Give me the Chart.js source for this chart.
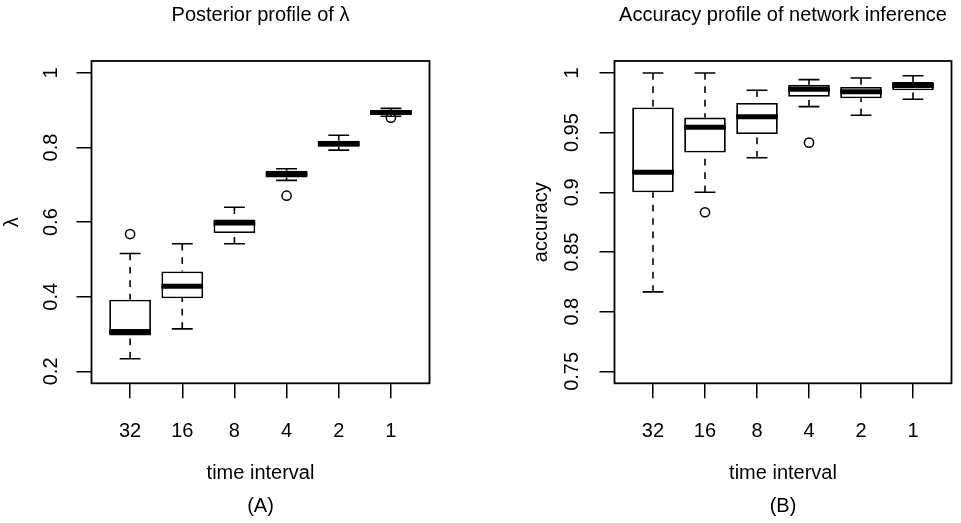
<!DOCTYPE html>
<html>
<head>
<meta charset="utf-8">
<script src="https://cdn.jsdelivr.net/npm/chart.js@4.4.1/dist/chart.umd.min.js"></script>
<style>
  body { margin: 0; background: #fff; }
  .panel { position: absolute; top: 0; }
</style>
</head>
<body>
<canvas id="lambdaChart" class="panel" width="480" height="523" style="left:0"></canvas>
<canvas id="accuracyChart" class="panel" width="481" height="523" style="left:480px"></canvas>
<script>
const intervals = ['32', '16', '8', '4', '2', '1']
const positions = [1, 2, 3, 4, 5, 6]

// posterior of lambda per time interval (whisker ends, quartiles, median)
const lambdaLow = [0.234, 0.314, 0.542, 0.712, 0.793, 0.884]
const lambdaQ1 = [0.296, 0.396, 0.571, 0.720, 0.802, 0.888]
const lambdaMed = [0.307, 0.428, 0.598, 0.729, 0.810, 0.894]
const lambdaQ3 = [0.392, 0.468, 0.607, 0.738, 0.818, 0.898]
const lambdaHigh = [0.516, 0.542, 0.640, 0.743, 0.833, 0.905]
const lambdaOutX = [1, 4, 6]
const lambdaOutY = [0.568, 0.671, 0.880]
const lambdaTicks = [0.2, 0.4, 0.6, 0.8, 1]

// accuracy of the inferred network
const accLow = [0.8166, 0.900, 0.929, 0.9718, 0.9645, 0.978]
const accQ1 = [0.900, 0.9333, 0.9489, 0.980, 0.9787, 0.9854]
const accMed = [0.9168, 0.9545, 0.9634, 0.9863, 0.9843, 0.9894]
const accQ3 = [0.971, 0.9626, 0.9749, 0.990, 0.9883, 0.9925]
const accHigh = [1.0, 1.0, 0.9855, 0.9944, 0.9958, 0.9977]
const accOutX = [2, 4]
const accOutY = [0.8833, 0.9416]
const accTicks = [0.75, 0.8, 0.85, 0.9, 0.95, 1]

Chart.defaults.font.family = "'Liberation Sans', Arial, sans-serif"
Chart.defaults.font.size = 20
Chart.defaults.color = '#000'

// whiskers, staples and medians on top of the box dataset, plus the plot frame
function boxExtras(low, q1, med, q3, high) {
  return {
    id: 'boxExtras',
    afterDatasetDraw(chart, args) {
      if (args.index !== 0) return
      const ctx = chart.ctx
      const x = chart.scales.x
      const y = chart.scales.y
      ctx.save()
      ctx.strokeStyle = '#000'
      ctx.lineCap = 'butt'
      args.meta.data.forEach((bar, i) => {
        const cx = x.getPixelForValue(positions[i])
        const half = bar.getProps(['width']).width / 2
        // dashed whiskers run from the whisker end toward the box
        ctx.lineWidth = 1.6
        ctx.setLineDash([6.7, 6.7])
        ctx.beginPath()
        ctx.moveTo(cx, y.getPixelForValue(low[i]))
        ctx.lineTo(cx, y.getPixelForValue(q1[i]))
        ctx.moveTo(cx, y.getPixelForValue(high[i]))
        ctx.lineTo(cx, y.getPixelForValue(q3[i]))
        ctx.stroke()
        ctx.setLineDash([])
        ctx.beginPath()
        ctx.moveTo(cx - half / 2, y.getPixelForValue(low[i]))
        ctx.lineTo(cx + half / 2, y.getPixelForValue(low[i]))
        ctx.moveTo(cx - half / 2, y.getPixelForValue(high[i]))
        ctx.lineTo(cx + half / 2, y.getPixelForValue(high[i]))
        ctx.stroke()
        ctx.lineWidth = 5
        ctx.beginPath()
        ctx.moveTo(cx - half, y.getPixelForValue(med[i]))
        ctx.lineTo(cx + half, y.getPixelForValue(med[i]))
        ctx.stroke()
      })
      ctx.restore()
    },
    afterDraw(chart) {
      const {ctx, chartArea: a} = chart
      ctx.save()
      ctx.strokeStyle = '#000'
      ctx.lineWidth = 1.8
      ctx.strokeRect(a.left, a.top, a.right - a.left, a.bottom - a.top)
      ctx.restore()
    }
  }
}

function boxChart(id, p) {
  const boxes = positions.map((v, i) => ({ x: v, y: [p.q1[i], p.q3[i]] }))
  const outliers = p.outX.map((v, i) => ({ x: v, y: p.outY[i] }))
  return new Chart(document.getElementById(id), {
    type: 'bar',
    data: {
      datasets: [{
        data: boxes,
        backgroundColor: '#fff',
        borderColor: '#000',
        borderWidth: 1.8,
        borderSkipped: false,
        categoryPercentage: 0.8,
        barPercentage: 1
      }, {
        type: 'scatter',
        data: outliers,
        pointStyle: 'circle',
        pointRadius: 4.6,
        pointBorderWidth: 1.5,
        pointBorderColor: '#000',
        pointBackgroundColor: 'rgba(0,0,0,0)'
      }]
    },
    options: {
      responsive: false,
      animation: false,
      events: [],
      layout: { padding: { left: 0, right: p.padRight, top: 0, bottom: 0 } },
      plugins: {
        legend: { display: false },
        tooltip: { enabled: false },
        title: {
          display: true,
          text: p.title,
          fullSize: false,
          font: { size: 20, weight: 'normal' },
          padding: { top: 3, bottom: 34 }
        },
        subtitle: {
          display: true,
          text: p.tag,
          position: 'bottom',
          fullSize: false,
          font: { size: 20 },
          padding: { top: 5, bottom: 5 }
        }
      },
      scales: {
        x: {
          type: 'linear',
          min: 0.26,
          max: 6.74,
          offset: false,
          afterBuildTicks: s => { s.ticks = positions.map(v => ({ value: v })) },
          afterFit: s => { s.height = 105.7 },
          ticks: { autoSkip: false, maxRotation: 0, padding: 20.7, callback: v => intervals[v - 1] },
          grid: { offset: false, drawOnChartArea: false, tickLength: 15, color: '#000', lineWidth: 1.5 },
          border: { display: false },
          title: { display: true, text: 'time interval', padding: { top: 0, bottom: 3.5 } }
        },
        y: {
          min: p.yMin,
          max: p.yMax,
          afterBuildTicks: s => { s.ticks = p.yTicks.map(v => ({ value: v })) },
          afterFit: s => { s.width = p.axisWidth },
          ticks: { minRotation: 90, maxRotation: 90, crossAlign: 'center', padding: p.tickPad, callback: v => String(v) },
          grid: { drawOnChartArea: false, tickLength: 15, color: '#000', lineWidth: 1.5 },
          border: { display: false },
          title: { display: true, text: p.yTitle, padding: { top: p.titlePad, bottom: 0 } }
        }
      }
    },
    plugins: [boxExtras(p.low, p.q1, p.med, p.q3, p.high)]
  })
}

boxChart('lambdaChart', {
  title: 'Posterior profile of λ', tag: '(A)', yTitle: 'λ',
  low: lambdaLow, q1: lambdaQ1, med: lambdaMed, q3: lambdaQ3, high: lambdaHigh,
  outX: lambdaOutX, outY: lambdaOutY, yTicks: lambdaTicks,
  yMin: 0.168, yMax: 1.032, axisWidth: 91.5, padRight: 50.5, tickPad: 11.1, titlePad: 0
})

boxChart('accuracyChart', {
  title: 'Accuracy profile of network inference', tag: '(B)', yTitle: 'accuracy',
  low: accLow, q1: accQ1, med: accMed, q3: accQ3, high: accHigh,
  outX: accOutX, outY: accOutY, yTicks: accTicks,
  yMin: 0.74, yMax: 1.01, axisWidth: 134.5, padRight: 9.5, tickPad: 7.5, titlePad: 49
})
</script>
</body>
</html>
